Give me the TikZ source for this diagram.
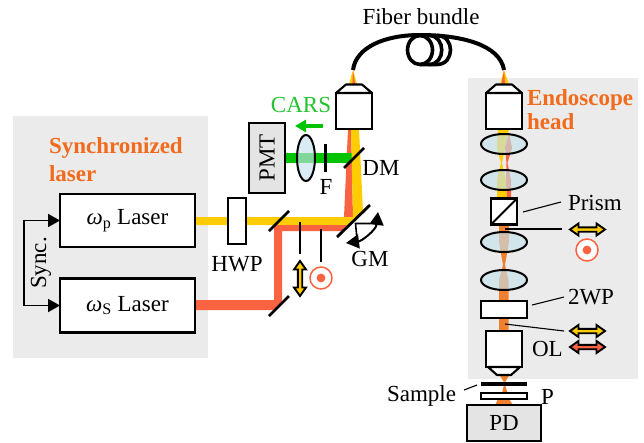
\documentclass[tikz,border=0pt]{standalone}
\usepackage{fontspec}
\setmainfont{Liberation Serif}
\usetikzlibrary{shapes.geometric,arrows.meta}
\definecolor{panel}{HTML}{EBEBEB}
\definecolor{boxgray}{HTML}{E4E4E4}
\definecolor{beamy}{HTML}{FFCC00}
\definecolor{beamr}{HTML}{F96342}
\definecolor{beamo}{HTML}{EF8030}
\definecolor{beamg}{HTML}{00C400}
\definecolor{carsg}{HTML}{22C32E}
\definecolor{headtxt}{HTML}{F26A1B}
\definecolor{lensblue}{HTML}{C4E2EC}
\newcommand{\omg}{\textit{ω}}
\tikzset{
  x=1pt,y=-1pt,
  every node/.style={inner sep=0pt,outer sep=0pt,font=\fontsize{23}{27}\selectfont},
  box/.style={draw=black,line width=2.1pt,fill=white,minimum width=#1},
  graybox/.style={draw=black,line width=2.1pt,fill=boxgray,minimum width=#1},
  lensv/.style={ellipse,draw=black,line width=2pt,fill=lensblue,fill opacity=.65,draw opacity=1,minimum width=#1},
  orangehead/.style={font=\fontsize{23}{25}\selectfont\bfseries,text=headtxt,align=left},
  mirror/.style={line width=2.8pt,black},
  leader/.style={line width=1.1pt,black},
  pics/dbl/.style={code={
    \draw[line width=1.9pt,fill=#1,line join=miter]
      (-17.5,0)--(-9,-6)--(-9,-2.2)--(9,-2.2)--(9,-6)--(17.5,0)--(9,6)--(9,2.2)--(-9,2.2)--(-9,6)--cycle;}},
  pics/pol/.style={code={
    \draw[beamr,line width=1.5pt,fill=white] (0,0) circle[radius=11];
    \fill[beamr] (0,0) circle[radius=4.4];}},
  pics/obj/.style={code={
    \draw[line width=2.1pt,fill=white,line join=round] (-18,0)--(-8,-8.5)--(8,-8.5)--(18,0)--cycle;}},
}
\begin{document}
\begin{tikzpicture}
\useasboundingbox (0,0) rectangle (644,442);
% panels
\fill[panel] (13,116) rectangle (208,358);
\fill[panel] (468,78) rectangle (638,379);
% coordinates for free ends
\coordinate (sa) at (24,220.5);
\coordinate (sb) at (24,305.5);
% beams left part
\fill[beamr] (344,217)--(353,217)--(351,129)--(348,129)--cycle;
\fill[beamg] (286,153) rectangle (355,163);
\fill[beamy] (195,217)--(353,217)--(351,129)--(359,129)--(363,212)--(350,225)--(195,225)--cycle;
\fill[beamr] (195,300)--(274,300)--(274,225)--(348,225)--(342,231)--(282,231)--(282,303)--(275,310)--(195,310)--cycle;
% flames
\fill[beamy] (353,70)--(349,84)--(357,84)--cycle;
\fill[beamr] (353,70)--(352.5,84)--(355,84)--cycle;
\fill[beamy] (504,70)--(500,84)--(509,84)--cycle;
\fill[beamr] (504,70)--(501.5,84)--(505,84)--cycle;
% fiber
\draw[line width=4pt] (353,70) .. controls (356,47) and (385,35) .. (420,35)
  .. controls (462,35) and (500,45) .. (504,70);
\draw[line width=3.6pt] (420,50) ellipse[x radius=12.5,y radius=14.5];
\draw[line width=3.6pt] (420,64.5)--(429,64.5) .. controls (446,64.5) and (446,35.5) .. (429,35.5);
\draw[line width=3.6pt] (429,64.5)--(437,64.5) .. controls (455,64.5) and (455,35.5) .. (437,35.5);
% beams right part
\fill[beamy] (498,129)--(509,129)--(506,144)--(502,163)--(501,163)--(497,148)--cycle;
\fill[beamy] (501,163)--(502,163)--(506,180)--(507,198)--(497,198)--(497,180)--cycle;
\fill[beamr] (509,133)--(512,148)--(507.5,163)--(511,180)--(511,198)--(507,198)--(506,180)--(506.5,163)--(505,148)--cycle;
\fill[beamo] (499,225)--(509,225)--(509,242)--(505,265)--(503,265)--(499,242)--cycle;
\fill[beamo] (503,265)--(505,265)--(508.5,280)--(508.5,331)--(499,331)--(499,280)--cycle;
\fill[beamo] (499,374)--(510,374)--(504.5,383)--cycle;
\fill[beamo] (504.5,383)--(502,393)--(507.5,393)--cycle;
\fill[beamo] (498,399)--(509,399)--(513,405)--(495,405)--cycle;
% lasers
\node[box=135pt,minimum height=53pt] (plaser) at (127.5,220.5) {\raisebox{-3pt}{\omg\textsubscript{p} Laser}};
\node[box=135pt,minimum height=54pt] (slaser) at (127.5,305.5) {\raisebox{-2pt}{\omg\textsubscript{S} Laser}};
\draw[line width=1.8pt,{Triangle[length=12pt,width=13pt]}-{Triangle[length=12pt,width=13pt]}] (plaser.west) -- (sa) -- (sb) -- (slaser.west);
\node[rotate=90] (sync) at (41,263) {Sync.};
\node[orangehead,anchor=north west] (synctxt) at (49,138) {Synchronized\\[3pt]laser};
% HWP
\node[box=18pt,minimum height=46pt] (hwp) at (237,221) {};
\node (hwpl) at (237,264) {HWP};
% mirrors
\coordinate (m1a) at (269,231); \coordinate (m1b) at (289,211);
\coordinate (m2a) at (269,316); \coordinate (m2b) at (289,296);
\coordinate (gma) at (337,237); \coordinate (gmb) at (370,205);
\coordinate (dma) at (344,168); \coordinate (dmb) at (364,148);
\draw[mirror] (m1a)--(m1b);
\draw[mirror] (m2a)--(m2b);
\draw[mirror] (gma)--(gmb);
\draw[mirror] (dma)--(dmb);
% GM symbol
\coordinate (gc) at (355.5,223.5);
\draw[line width=1.6pt] (370,223.5)--(gc)--(357,239);
\draw[line width=2pt,{Triangle[length=13pt,width=14pt]}-{Triangle[length=13pt,width=14pt]}] (378,212) .. controls (376,230) and (362,241) .. (346,243);
\node (gml) at (370,259) {GM};
% left polarisation
\coordinate (la) at (300,222); \coordinate (lb) at (300,254);
\coordinate (lc) at (321,229); \coordinate (ld) at (321,262);
\draw[leader] (la)--(lb);
\draw[leader] (lc)--(ld);
\pic[rotate=90] at (300,278.5) {dbl=beamy};
\pic at (321,278) {pol};
% PMT path
\node[graybox=36pt,minimum height=70pt] (pmt) at (267,158) {};
\node[rotate=90] (pmtl) at (267,158) {PMT};
\node[lensv=18pt,minimum height=46pt] (lens0) at (306,158) {};
\draw[line width=3pt] (325,144)--(325,172);
\node (fl) at (326,187) {F};
\node (dml) at (381,168) {DM};
\node[text=carsg] (cars) at (301,105) {CARS};
\draw[beamg,line width=3.5pt,-{Triangle[length=11pt,width=12pt]}] (323,126)--(295,126);
% objectives
\node[box=36pt,minimum height=36pt] (obj1) at (354,111) {};
\pic at (obj1.north) {obj};
\node[box=36pt,minimum height=36pt] (obj2) at (504,111) {};
\pic at (obj2.north) {obj};
\node (fb) at (421,17) {Fiber bundle};
\node[orangehead,anchor=north west] (endo) at (527,90) {Endoscope\\[-1pt]head};
% lenses
\node[lensv=46pt,minimum height=20pt] (l1) at (504,144) {};
\node[lensv=46pt,minimum height=20pt] (l2) at (504,180) {};
\node[lensv=46pt,minimum height=20pt] (l3) at (504,242) {};
\node[lensv=46pt,minimum height=20pt] (l4) at (504,280) {};
% prism
\node[box=26pt,minimum height=26pt] (prism) at (504,211.5) {};
\draw[line width=2.1pt] (prism.south west)--(prism.north east);
\node[anchor=west] (prisml) at (568,203) {Prism};
\coordinate (pa) at (523,212); \coordinate (pb) at (561,202);
\draw[leader] (pa)--(pb);
\coordinate (qa) at (505,229); \coordinate (qb) at (562,229);
\draw[leader] (qa)--(qb);
\pic at (587.5,229.5) {dbl=beamy};
\pic at (587,250) {pol};
% 2WP
\node[box=46pt,minimum height=17pt] (twp) at (504,309.5) {};
\node[anchor=west] (twpl) at (568,297) {2WP};
\coordinate (ta) at (532,305); \coordinate (tb) at (564,297);
\draw[leader] (ta)--(tb);
\coordinate (ua) at (505,324); \coordinate (ub) at (564,331);
\draw[leader] (ua)--(ub);
\pic at (587.5,331) {dbl=beamy};
\pic at (587.5,347) {dbl=beamr};
% OL
\node[box=36pt,minimum height=36pt] (ol) at (504,349) {};
\draw[line width=2.1pt,fill=white,line join=round] (ol.south west)++(2,0)--++(9,8)--++(14,0)--++(9,-8)--cycle;
\node[anchor=west] (oll) at (532,349) {OL};
% sample
\draw[line width=3.5pt] (481,384)--(527,384);
\node[box=46pt,minimum height=6pt] (pp) at (504,396) {};
\node[anchor=west] (sl) at (387,395.5) {Sample};
\coordinate (sa1) at (464,390); \coordinate (sb1) at (477,385);
\draw[leader] (sa1)--(sb1);
\node[anchor=west] (plab) at (541,397) {P};
\node[graybox=74pt,minimum height=36pt] (pd) at (504,423) {PD};
\end{tikzpicture}
\end{document}
